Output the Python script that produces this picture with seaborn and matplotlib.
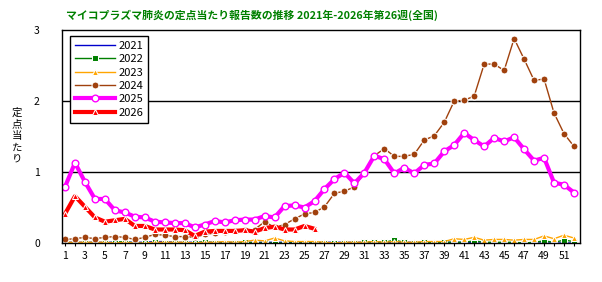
import numpy as np
import pandas as pd
import matplotlib
matplotlib.use("Agg")
import matplotlib.pyplot as plt
import seaborn as sns

# 週番号
weeks = list(range(1, 53))

# 定点当たり報告数
v2021 = [0.01, 0.01, 0.01, 0.01, 0.01, 0.01, 0.01, 0.01, 0.01, 0.02,
         0.02, 0.01, 0.01, 0.01, 0.01, 0.01, 0.01, 0.01, 0.01, 0.01,
         0.01, 0.01, 0.01, 0.01, 0.01, 0.01, 0.01, 0.01, 0.01, 0.01,
         0.01, 0.01, 0.01, 0.01, 0.01, 0.01, 0.01, 0.01, 0.01, 0.01,
         0.01, 0.00, 0.00, 0.00, 0.00, 0.00, 0.00, 0.00, 0.00, 0.00,
         0.00, 0.00]
v2022 = [0.00, 0.00, 0.00, 0.01, 0.00, 0.01, 0.02, 0.00, 0.00, 0.01,
         0.00, 0.01, 0.00, 0.00, 0.02, 0.00, 0.00, 0.00, 0.01, 0.00,
         0.00, 0.00, 0.00, 0.00, 0.00, 0.00, 0.00, 0.00, 0.00, 0.00,
         0.01, 0.02, 0.01, 0.04, 0.01, 0.00, 0.01, 0.00, 0.01, 0.01,
         0.01, 0.03, 0.01, 0.01, 0.01, 0.01, 0.00, 0.01, 0.03, 0.01,
         0.04, 0.02]
v2023 = [0.01, 0.01, 0.01, 0.01, 0.01, 0.00, 0.01, 0.00, 0.00, 0.01,
         0.01, 0.01, 0.01, 0.00, 0.01, 0.01, 0.02, 0.01, 0.02, 0.04,
         0.03, 0.07, 0.03, 0.02, 0.02, 0.02, 0.01, 0.00, 0.01, 0.01,
         0.01, 0.02, 0.01, 0.02, 0.01, 0.01, 0.02, 0.02, 0.02, 0.06,
         0.05, 0.08, 0.04, 0.05, 0.05, 0.04, 0.05, 0.05, 0.10, 0.06,
         0.11, 0.07]
v2024 = [0.05, 0.06, 0.08, 0.06, 0.08, 0.09, 0.08, 0.05, 0.08, 0.12,
         0.11, 0.09, 0.09, 0.08, 0.12, 0.14, 0.16, 0.17, 0.18, 0.19,
         0.30, 0.22, 0.26, 0.34, 0.41, 0.43, 0.51, 0.70, 0.73, 0.79,
         0.99, 1.23, 1.33, 1.22, 1.22, 1.25, 1.45, 1.51, 1.70, 2.00,
         2.01, 2.07, 2.52, 2.52, 2.43, 2.88, 2.59, 2.29, 2.31, 1.83,
         1.54, 1.36]
v2025 = [0.79, 1.13, 0.86, 0.62, 0.62, 0.46, 0.43, 0.37, 0.36, 0.30,
         0.29, 0.28, 0.28, 0.22, 0.26, 0.31, 0.29, 0.32, 0.33, 0.33,
         0.38, 0.36, 0.52, 0.53, 0.50, 0.59, 0.76, 0.90, 0.99, 0.84,
         0.99, 1.23, 1.18, 0.98, 1.06, 0.98, 1.10, 1.12, 1.29, 1.38,
         1.55, 1.45, 1.36, 1.48, 1.43, 1.49, 1.32, 1.16, 1.20, 0.85,
         0.82, 0.71]
v2026 = [0.41, 0.66, 0.51, 0.36, 0.30, 0.32, 0.34, 0.24, 0.24, 0.19,
         0.19, 0.19, 0.18, 0.10, 0.16, 0.17, 0.17, 0.17, 0.18, 0.16,
         0.21, 0.23, 0.19, 0.19, 0.24, 0.20]

ylabel_chars = ['定', '点', '当', 'た', 'り']

plt.rcParams['font.family'] = ['Noto Sans CJK JP', 'DejaVu Sans']

fig = plt.figure(figsize=(6.02, 2.82), dpi=100)
ax = fig.add_axes([62 / 602, 1 - 243 / 282, 518 / 602, 213 / 282])

# 各年のスタイル
series = [
    ('2021', v2021, dict(color='#0000CC', lw=1.0, marker='')),
    ('2022', v2022, dict(color='#008000', lw=1.0, marker='s', markersize=4)),
    ('2023', v2023, dict(color='#FFA500', lw=1.0, marker='^', markersize=5)),
    ('2024', v2024, dict(color='#A0410D', lw=1.0, marker='o', markersize=5)),
    ('2025', v2025, dict(color='#FF00FF', lw=3.0, marker='o', markersize=4.8,
                         markerfacecolor='white', markeredgecolor='#FF00FF',
                         markeredgewidth=1.0)),
    ('2026', v2026, dict(color='#FF0000', lw=3.0, marker='^', markersize=4.5)),
]

for label, vals, style in series:
    wk = weeks[:len(vals)]
    sns.lineplot(x=wk, y=vals, ax=ax, label=label, **style)

ax.set_xlim(0.7, 52.6)
ax.set_ylim(0, 3)
ax.set_xticks(weeks)
ax.set_xticklabels([str(w) if w % 2 == 1 else '' for w in weeks], fontsize=7.5)
ax.set_yticks([0, 1, 2, 3])
ax.set_yticklabels(['0', '1', '2', '3'], fontsize=7.5)
ax.tick_params(axis='x', direction='inout', length=4, width=0.8, pad=4)
ax.tick_params(axis='y', length=0, pad=16)
ax.set_xlabel('')
ax.set_ylabel('')

# 横線 1, 2
for yv in [1, 2]:
    ax.axhline(yv, color='black', lw=1.0, zorder=0.5)

for sp in ax.spines.values():
    sp.set_color('black')
    sp.set_linewidth(1.0)

leg = ax.legend(loc='upper left', bbox_to_anchor=(0.016, 0.972), fontsize=8,
                frameon=True, fancybox=False, edgecolor='black', framealpha=1,
                handlelength=3.6, borderpad=0.45, labelspacing=0.3,
                handletextpad=0.25, borderaxespad=0)
leg.get_frame().set_linewidth(1.0)

fig.text(252 / 602, 1 - 15 / 282,
         'マイコプラズマ肺炎の定点当たり報告数の推移 2021年-2026年第26週(全国)',
         ha='center', va='center', color='#008000', fontsize=7.8, fontweight='bold')

# 縦書きの軸ラベル
for i, ch in enumerate(ylabel_chars):
    fig.text(17 / 602, 1 - (113 + i * 11.5) / 282, ch, ha='center', va='center',
             fontsize=7.5)

fig.savefig('out.png', dpi=100)
